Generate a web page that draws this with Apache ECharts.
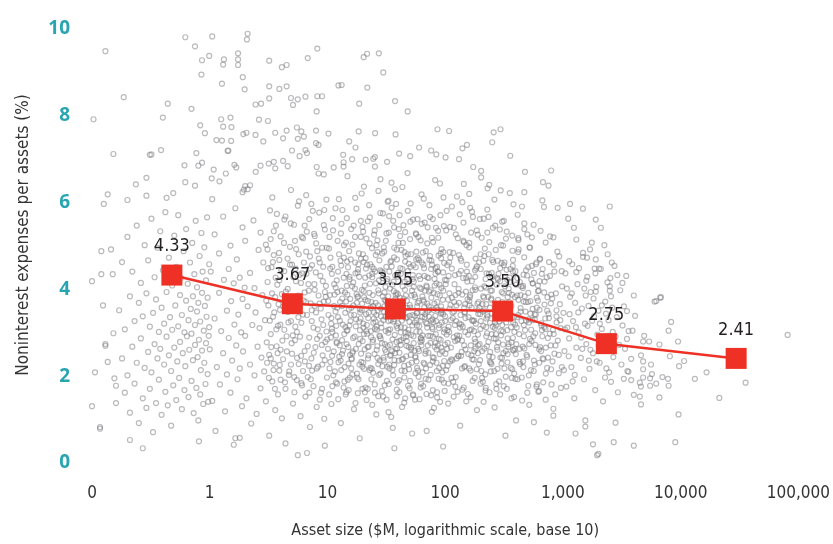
<!DOCTYPE html>
<html>
<head>
<meta charset="utf-8">
<script src="https://cdn.jsdelivr.net/npm/echarts/dist/echarts.min.js"></script>
<style>
  html, body { margin: 0; padding: 0; background: #fff; }
  #chart { width: 833px; height: 544px; }
</style>
</head>
<body>
<div id="chart"></div>
<script>
// asset size ($M) vs noninterest expenses per assets (%), one pair per bank
const banksUnder1 = [
  [0.136,6.19],[0.126,5.97],[0.12,4.88],[0.145,4.92],[0.1,4.19],[0.12,4.35],[0.15,4.35],[0.124,3.63],[0.152,2.99],[0.13,2.74],
  [0.13,2.7],[0.136,2.33],[0.106,2.09],[0.155,1.95],[0.16,1.78],[0.1,1.31],[0.16,1.38],[0.117,0.83],[0.117,0.79],[0.13,9.49],
  [0.186,8.43],[0.103,7.92],[0.152,7.12],[0.31,7.1],[0.386,7.21],[0.4,7.96],[0.44,8.28],[0.7,8.16],[0.62,9.81],[0.75,9.6],
  [0.99,9.38],[0.86,9.28],[0.85,8.95],[0.83,7.78],[0.91,7.6],[0.77,7.14],[0.61,6.86],[0.8,6.85],[0.86,6.92],[0.29,6.57],
  [0.236,6.42],[0.62,6.47],[0.75,6.39],[0.29,6.16],[0.43,6.11],[0.49,6.22],[0.2,6.06],[0.32,7.11],[0.21,0.53],[0.27,0.34],[0.81,0.5],
  [0.17,3.52],[0.18,2.41],[0.18,4.63],[0.19,1.62],[0.19,3.08],[0.2,5.21],[0.2,2.02],[0.21,3.84],[0.21,1.16],[0.22,2.68],
  [0.22,4.41],[0.23,3.27],[0.23,1.83],[0.24,5.47],[0.24,2.31],[0.25,3.69],[0.25,0.92],[0.26,2.87],[0.26,4.15],[0.27,1.49],
  [0.27,3.38],[0.28,2.19],[0.28,5.02],[0.29,3.91],[0.29,1.27],[0.3,2.56],[0.3,4.67],[0.31,3.14],[0.31,1.71],[0.32,2.09],
  [0.32,5.63],[0.33,3.46],[0.33,0.71],[0.34,2.74],[0.34,4.28],[0.35,1.38],[0.35,3.77],[0.36,2.41],[0.36,4.96],[0.37,3.02],
  [0.37,1.92],[0.38,5.34],[0.38,2.63],[0.39,3.58],[0.39,1.11],[0.4,4.44],[0.41,2.27],[0.41,3.21],[0.42,1.64],[0.42,5.78],
  [0.43,2.91],[0.43,3.94],[0.44,1.33],[0.45,4.73],[0.45,2.48],[0.46,3.36],[0.47,0.86],[0.47,2.12],[0.48,4.09],[0.48,3.07],
  [0.49,1.79],[0.5,5.24],[0.5,2.66],[0.51,3.63],[0.52,1.45],[0.52,4.52],[0.53,2.34],[0.54,3.15],[0.54,5.71],[0.55,1.96],
  [0.56,3.87],[0.56,2.79],[0.57,4.26],[0.58,1.24],[0.58,3.41],[0.59,2.53],[0.6,4.88],[0.61,3.01],[0.61,1.68],[0.62,2.23],
  [0.63,3.74],[0.63,5.39],[0.64,2.92],[0.65,4.13],[0.66,1.52],[0.66,3.29],[0.67,2.61],[0.68,4.62],[0.69,3.55],[0.7,1.89],
  [0.7,2.98],[0.71,5.07],[0.72,3.84],[0.72,2.37],[0.73,1.15],[0.74,4.35],[0.75,3.18],[0.75,2.72],[0.76,5.58],[0.77,1.73],
  [0.78,3.49],[0.78,4.05],[0.79,2.44],[0.8,0.98],[0.8,3.69],[0.81,2.84],[0.82,4.77],[0.83,1.58],[0.83,3.26],[0.84,2.14],
  [0.85,5.3],[0.86,3.92],[0.86,2.59],[0.87,4.41],[0.88,1.36],[0.89,3.05],[0.9,2.31],[0.9,4.97],[0.91,3.62],[0.92,1.82],
  [0.93,2.76],[0.93,4.21],[0.94,3.37],[0.95,5.66],[0.96,2.05],[0.96,3.81],[0.97,1.41],[0.98,2.93],[0.99,4.58],[0.99,3.13]
];

const banks1to10 = [
  [1.05,9.83],[2.1,9.89],[2.07,9.76],[1.3,9.18],[1.74,9.3],[1.74,9.17],[1.27,8.74],[1.98,8.61],[1.91,8.89],[3.2,9.27],
  [3.2,8.68],[3.2,8.4],[2.45,8.26],[2.73,8.28],[1.25,7.92],[1.5,7.96],[1.27,7.43],[1.52,7.42],[1.14,7.44],[1.93,7.58],
  [2.05,7.61],[2.62,7.91],[3.12,7.88],[2.45,7.56],[2.85,7.41],[1.42,7.19],[1.04,6.56],[1.21,6.49],[1.08,6.76],[1.37,6.67],
  [1.68,6.81],[1.62,6.87],[2.46,6.71],[2.7,6.85],[3.17,6.9],[3.5,6.94],[1.9,6.24],[2.0,6.38],[2.1,6.31],[2.2,6.4],
  [1.95,6.3],[1.65,0.57],[1.8,0.58],[4.4,0.45],[5.6,0.18],[6.7,0.23],[9.5,0.4],
  [1.32,9.3],[1.74,9.44],[4.1,9.12],[4.5,9.17],[6.8,9.33],[8.2,9.55],[3.9,8.62],[4.5,8.68],[4.9,8.41],[5.6,8.38],
  [6.5,8.44],[5.1,8.25],[8.2,8.45],[9.0,8.45],[8.1,8.1],[1.44,7.2],[1.3,7.75],[1.53,7.74],[3.6,7.61],[4.2,7.48],
  [4.5,7.66],[5.5,7.73],[6.0,7.64],[6.3,7.52],[5.6,7.47],[8.0,7.66],[8.0,7.37],[8.4,7.33],[3.6,6.79],[4.2,6.96],
  [4.6,6.84],[5.0,7.2],[5.8,7.07],[6.7,7.14],[6.5,7.21],[8.1,6.82],[9.3,6.65],[8.4,6.67],
  [1.0,2.62],[1.02,4.41],[1.05,1.43],[1.05,6.08],[1.1,3.33],[1.1,5.27],[1.12,0.74],[1.15,2.21],[1.2,3.92],[1.2,4.83],
  [1.22,1.81],[1.25,3.04],[1.3,5.68],[1.3,2.53],[1.32,4.22],[1.35,1.19],[1.4,3.51],[1.4,2.04],[1.45,4.47],[1.45,2.88],
  [1.5,5.01],[1.5,1.62],[1.52,3.73],[1.55,2.36],[1.6,4.14],[1.6,0.42],[1.62,3.19],[1.65,5.87],[1.68,2.71],[1.7,4.69],
  [1.72,1.93],[1.75,3.42],[1.8,2.18],[1.8,4.27],[1.85,3.01],[1.88,1.31],[1.9,5.43],[1.9,3.78],[1.92,2.57],[1.98,4.04],
  [2.0,2.93],[2.0,5.12],[2.05,1.49],[2.1,3.61],[2.2,2.27],[2.2,4.38],[2.25,0.91],[2.3,3.18],[2.35,5.59],[2.4,2.02],
  [2.4,4.03],[2.45,3.47],[2.5,1.13],[2.55,2.68],[2.6,4.91],[2.65,3.11],[2.7,1.72],[2.7,5.31],[2.75,2.43],[2.8,3.87],
  [2.85,4.62],[2.9,2.11],[2.95,3.29],[3.0,1.42],[3.0,5.03],[3.05,2.78],[3.1,4.17],[3.15,3.63],[3.2,0.63],[3.2,2.49],
  [3.25,5.82],[3.3,2.97],[3.35,4.51],[3.4,1.88],[3.4,6.12],[3.45,3.37],[3.5,2.29],[3.5,4.79],[3.6,1.22],[3.6,3.82],
  [3.65,5.47],[3.7,2.69],[3.75,4.11],[3.8,3.16],[3.8,1.58],[3.9,2.13],[3.9,4.68],[3.95,3.53],[4.0,2.61],[4.0,5.22],
  [4.1,1.03],[4.1,3.89],[4.2,2.39],[4.3,4.42],[4.3,3.07],[4.4,1.71],[4.4,5.68],[4.5,2.92],[4.6,4.01],[4.6,3.48],
  [4.7,2.03],[4.8,4.98],[4.9,3.27],[4.9,6.29],[5.0,2.52],[5.0,4.57],[5.1,1.37],[5.2,3.81],[5.2,5.49],[5.3,2.83],
  [5.4,4.19],[5.5,1.91],[5.5,3.02],[5.6,5.93],[5.7,2.28],[5.7,4.81],[5.8,3.58],[5.9,1.08],[6.0,3.23],[6.1,4.37],
  [6.2,2.12],[6.2,5.18],[6.4,3.93],[6.4,2.58],[6.5,1.53],[6.6,4.87],[6.6,6.17],[6.7,3.41],[6.8,1.98],[6.9,4.12],
  [7.0,5.62],[7.0,2.89],[7.1,0.83],[7.2,3.68],[7.3,5.97],[7.3,2.41],[7.4,4.56],[7.6,3.12],[7.6,1.77],[7.7,5.28],
  [7.8,3.99],[7.9,2.67],[8.0,3.47],[8.1,1.29],[8.2,4.88],[8.3,2.22],[8.4,3.86],[8.5,5.77],[8.6,2.93],[8.7,4.31],
  [8.8,1.62],[8.9,3.31],[9.0,4.96],[9.1,2.48],[9.2,4.52],[9.3,3.72],[9.4,1.02],[9.5,5.38],[9.6,2.79],[9.7,4.08],
  [9.8,6.07],[9.8,3.03],[9.9,1.97],
  [3.02,3.74],[3.07,2.31],[3.13,4.49],[3.18,1.96],[3.24,3.28],[3.29,5.16],[3.33,2.67],[3.38,3.91],[3.44,4.63],[3.48,2.14],
  [3.53,3.47],[3.58,1.71],[3.63,4.27],[3.68,3.08],[3.72,5.74],[3.77,2.53],[3.84,3.66],[3.88,4.84],[3.93,2.26],[3.98,3.19],
  [4.05,4.44],[4.14,2.82],[4.22,3.61],[4.27,5.07],[4.36,1.86],[4.43,3.95],[4.52,2.57],[4.58,4.71],[4.66,3.24],[4.74,2.11],
  [4.82,3.79],[4.88,5.52],[4.96,2.76],[5.05,3.53],[5.14,4.28],[5.24,1.63],[5.33,3.14],[5.42,4.93],[5.52,2.42],[5.63,3.86],
  [5.74,6.03],[5.85,2.91],[5.96,4.15],[6.08,1.79],[6.19,3.42],[6.31,4.62],[6.43,2.34],[6.56,3.71],[6.68,5.33],[6.81,2.69],
  [6.95,3.97],[7.08,4.48],[7.22,1.93],[7.36,3.27],[7.51,5.81],[7.65,2.54],[7.81,3.62],[7.96,4.39],[8.12,2.18],[8.28,3.08],
  [8.44,4.71],[8.61,1.46],[8.78,3.56],[8.95,2.72],[9.13,4.19],[9.31,5.48],[9.49,2.37],[9.68,3.83],[9.87,4.96],[9.95,2.85],
  [5.08,2.94],[5.36,4.48],[5.66,3.36],[5.97,2.47],[6.29,3.74],[6.63,4.36],[6.98,2.24],[7.35,3.52],[7.74,4.12],[8.15,2.86],
  [8.58,3.67],[9.03,2.27],[9.51,3.94],[5.22,1.98],[6.05,5.21],[7.02,1.62],[8.02,5.06],[9.21,3.18],
  [3.1,4.92],[3.5,5.34],[3.9,4.21],[4.3,5.61],[4.8,4.57],[5.3,5.12],[5.8,4.34],[6.4,5.47],[7.1,4.76],[7.8,5.23],
  [8.6,4.62],[9.4,5.83],[3.3,2.41],[4.0,1.92],[4.9,2.27],[6.0,1.84],[7.4,2.13],[9.0,1.71]
];

const banks10to100 = [
  [12.4,8.7],[13.2,8.71],[21.8,8.65],[20.3,9.35],[21.7,9.43],[27.3,9.44],[29.8,9.0],[18.6,8.28],[37.5,8.34],[48,8.1],
  [10.2,7.59],[11.3,6.81],[13.6,7.1],[13.7,6.93],[13.7,6.83],[16.2,7.0],[15.3,7.41],[17.3,7.27],[18.4,7.64],[25.4,7.6],
  [37.9,7.57],[21.1,6.99],[24.5,7.01],[25.3,7.05],[25.3,6.83],[32.1,6.94],[40.6,7.13],[50.4,7.07],[60,7.27],[76,7.2],
  [84,7.11],[86,7.69],[37,0.34],
  [10.2,3.41],[10.4,2.18],[10.6,4.73],[10.8,1.36],[11.0,3.02],[11.1,5.64],[11.3,2.57],[11.5,3.88],[11.8,2.94],[12.0,4.21],
  [12.1,1.83],[12.3,3.36],[12.5,6.08],[12.6,2.45],[12.8,3.71],[13.0,0.92],[13.1,4.55],[13.3,2.83],[13.5,3.19],[13.8,5.02],
  [14.0,2.21],[14.1,3.93],[14.3,1.58],[14.5,4.36],[14.6,3.05],[14.8,6.61],[15.0,2.67],[15.2,3.54],[15.3,4.88],[15.5,1.97],
  [15.7,3.27],[15.9,5.39],[16.0,2.39],[16.2,4.07],[16.6,3.63],[16.8,1.24],[17.0,2.91],[17.2,4.62],[17.4,3.15],[17.6,5.86],
  [17.8,2.06],[18.0,3.82],[18.4,2.74],[18.6,4.29],[18.8,0.57],[19.0,3.47],[19.2,5.21],[19.4,2.33],[19.6,3.99],[19.8,1.71],
  [20.0,4.81],[20.2,3.12],[20.4,6.37],[20.7,2.62],[21.0,3.76],[21.2,4.48],[21.5,1.45],[21.7,2.98],[22.0,5.57],[22.2,3.34],
  [22.8,2.14],[23.0,4.13],[23.3,3.58],[23.6,1.93],[23.9,4.95],[24.2,2.79],[24.5,3.23],[25.1,2.51],[25.4,4.41],[25.7,3.69],
  [26.0,1.12],[26.3,3.07],[26.6,5.13],[27.0,2.28],[27.3,3.91],[27.6,4.67],[28.3,2.87],[28.6,3.38],[29.0,1.66],[29.3,4.26],
  [29.6,5.75],[30.0,2.43],[30.4,3.61],[31.2,3.04],[31.6,4.52],[32.0,1.89],[32.4,2.69],[32.8,3.84],[33.2,5.31],[33.6,2.18],
  [34.0,4.02],[34.5,3.29],[35.0,6.46],[35.4,2.58],[35.9,0.81],[36.3,3.52],[36.8,4.74],[37.3,2.95],[37.8,3.78],[38.3,5.97],
  [38.8,1.54],[39.3,3.11],[39.8,4.38],[40.3,2.36],[41.3,3.44],[41.9,2.72],[42.5,4.91],[43.0,1.29],[43.6,3.65],[44.2,5.48],
  [44.8,2.24],[45.4,4.18],[46.0,3.01],[47.2,2.81],[47.8,3.57],[48.4,1.78],[49.0,4.59],[49.7,3.25],[50.3,5.16],[51.0,2.49],
  [51.7,3.86],[52.4,0.68],[53.1,4.33],[53.8,2.92],[55.2,3.39],[56.0,2.07],[56.7,4.69],[57.5,3.17],[58.2,5.62],[59.0,2.63],
  [59.8,3.73],[60.6,1.47],[61.4,4.24],[62.2,2.88],[63.0,6.19],[63.9,3.48],[64.7,4.85],[65.6,2.31],[66.5,3.59],[68.3,1.94],
  [69.2,4.09],[70.1,3.21],[71.0,5.43],[72.0,2.54],[73.0,3.95],[75.0,2.77],[76.0,4.47],[77.0,1.18],[78.0,3.31],[79.0,5.09],
  [80.0,2.42],[81.0,3.67],[82.1,6.52],[83.2,2.97],[84.3,4.14],[85.4,1.63],[86.5,3.53],[87.7,4.78],[88.9,2.19],[90.0,3.86],
  [91.2,5.71],[92.4,2.66],[93.6,3.24],[96.1,4.39],[97.4,1.85],[98.7,3.08],
  [10.1,2.63],[10.5,3.87],[10.9,4.36],[11.2,2.02],[11.7,3.49],[12.2,5.12],[12.7,2.71],[13.2,3.97],[13.7,1.74],[14.2,3.13],
  [14.7,4.64],[15.1,2.29],[15.6,3.78],[16.5,2.88],[17.1,4.02],[17.5,3.31],[18.1,1.61],[18.5,4.83],[18.9,3.06],[19.3,2.52],
  [19.7,3.67],[20.1,5.33],[20.5,2.17],[20.9,4.27],[21.3,3.43],[22.3,2.48],[22.7,3.92],[23.1,4.58],[23.5,2.9],[24.0,1.34],
  [24.4,3.62],[24.9,5.26],[25.3,3.09],[25.8,4.14],[26.2,2.61],[26.7,3.51],[27.1,6.27],[27.5,2.03],[28.1,4.44],[28.5,3.22],
  [29.1,2.76],[29.5,3.84],[30.1,4.97],[30.6,1.79],[31.0,3.37],[31.5,2.56],[31.9,4.19],[32.5,6.02],[32.9,3.0],[33.4,2.27],
  [33.9,3.71],[34.3,4.63],[34.8,1.06],[35.3,3.44],[35.7,2.85],[36.2,5.58],[36.6,3.96],[37.1,2.37],[37.6,4.32],[38.6,3.16],
  [39.1,2.64],[39.6,3.89],[40.1,5.07],[40.6,1.91],[41.1,3.55],[41.6,4.49],[42.2,2.83],[42.8,3.28],[43.3,6.36],[43.9,2.4],
  [44.5,3.79],[45.1,4.86],[45.7,1.49],[46.3,3.34],[46.9,2.7],[47.5,4.23],[48.1,5.81],[48.7,3.07],[49.4,2.16],[50.0,3.64],
  [50.7,4.52],[51.4,2.95],[52.8,3.41],[53.5,1.56],[54.2,4.06],[54.9,2.59],[55.6,3.82],[56.4,5.29],[57.1,2.34],[57.8,3.46],
  [58.6,4.72],[59.4,1.99],[60.2,3.15],[61.8,2.79],[62.6,4.01],[63.5,3.36],[64.3,2.09],[65.2,4.57],[66.0,3.72],[66.9,5.54],
  [67.8,2.52],[68.7,3.23],[69.6,0.74],[70.5,4.28],[71.5,2.93],[72.5,3.61],[73.5,5.94],[74.5,2.26],[75.5,3.98],[76.5,4.66],
  [77.5,3.13],[78.5,1.68],[79.5,3.53],[81.6,2.68],[82.7,4.36],[83.8,3.27],[84.9,2.12],[86.0,3.89],[87.1,5.35],[88.3,2.86],
  [89.5,4.11],[90.6,1.41],[91.8,3.44],[93.0,4.93],[94.2,2.57],[95.5,3.76],[96.8,6.12],[98.0,2.35],[99.3,4.22],
  [10.3,4.94],[10.7,2.89],[11.0,1.77],[11.4,4.12],[11.9,3.16],[12.4,2.32],[12.9,4.66],[13.4,5.83],[13.9,2.97],[14.4,3.72],
  [14.9,1.92],[15.4,4.23],[15.8,3.41],[16.3,2.53],[16.7,5.47],[17.3,1.38],[17.7,3.89],[18.3,4.58],[18.7,2.27],[19.1,3.33],
  [19.5,6.21],[19.9,2.81],[20.3,3.96],[20.8,1.63],[21.1,4.72],[21.6,3.18],[22.1,2.41],[22.6,4.32],[22.9,5.66],[23.4,3.04],
  [23.8,2.17],[24.3,3.87],[24.7,4.47],[25.2,1.81],[25.6,3.26],[26.1,5.02],[26.5,2.69],[26.9,3.63],[27.4,4.21],[27.8,2.36],
  [28.2,6.54],[28.7,3.12],[29.2,4.83],[29.7,1.53],[30.2,3.49],[30.7,2.74],[31.1,4.06],[31.7,5.29],[32.2,2.22],[32.7,3.67],
  [33.0,1.17],[33.5,4.41],[34.1,3.08],[34.6,2.49],[35.1,5.88],[35.6,3.58],[36.1,2.02],[36.5,4.18],[37.0,3.31],[37.4,6.31],
  [37.9,2.63],[38.4,3.92],[38.9,4.69],[39.4,1.86],[39.9,3.22],[40.4,5.39],[40.9,2.54],[41.4,3.81],[42.0,4.36],[42.6,2.13],
  [43.1,3.47],[43.7,5.07],[44.3,2.88],[44.9,1.39],[45.5,3.99],[46.1,4.77],[46.7,2.46],[47.3,3.36],[47.9,6.68],[48.5,2.99],
  [49.2,4.13],[49.9,1.72],[50.5,3.58],[51.2,4.81],[51.9,2.31],[52.6,3.17],[53.3,5.61],[54.0,2.76],[54.7,3.88],[55.4,1.46],
  [56.2,4.51],[56.9,3.03],[57.7,2.19],[58.4,3.69],[59.2,5.21],[60.0,2.58],[60.8,4.04],[61.6,3.28],[62.4,1.83],[63.2,4.62],
  [64.0,2.94],[64.9,3.76],[65.8,6.09],[66.7,2.28],[67.6,3.43],[68.5,4.88],[69.4,1.59],[70.3,3.12],[71.3,2.71],[72.3,4.26],
  [73.3,3.53],[74.3,5.67],[75.3,2.03],[76.3,3.81],[77.3,4.57],[78.3,2.44],[79.3,3.24],[80.3,1.27],[81.3,4.09],[82.4,3.39],
  [83.5,5.42],[84.6,2.62],[85.7,3.71],[86.8,4.41],[88.0,1.94],[89.2,3.18],[90.3,6.44],[91.5,2.84],[92.7,4.03],[93.9,3.52],
  [95.1,2.24],[96.4,4.86],[97.7,3.01],[99.0,1.66],
  [10.9,3.09],[12.1,3.58],[13.3,2.51],[14.6,4.08],[15.9,2.18],[17.3,4.37],[18.8,3.55],[20.4,2.97],[22.1,3.73],[24.0,4.28],
  [26.0,3.41],[28.2,2.06],[30.5,3.93],[33.0,3.27],[35.7,4.11],[38.6,2.79],[41.8,3.63],[45.3,3.12],[49.0,2.67],[53.0,4.24],
  [57.4,3.45],[62.1,2.87],[67.2,3.97],[72.8,3.37],[78.8,2.91],[85.3,4.52],[92.3,3.61],[99.8,3.27],
  [10.15,3.73],[10.35,1.58],[10.55,4.48],[10.75,3.21],[10.95,2.47],[11.15,5.36],[11.35,3.62],[11.55,2.11],[11.75,4.04],[11.95,2.79],
  [12.15,3.94],[12.35,1.47],[12.55,4.81],[12.75,3.28],[12.95,2.36],[13.15,5.51],[13.35,3.79],[13.55,2.59],[13.75,4.27],[13.95,1.88],
  [14.15,3.46],[14.35,5.08],[14.55,2.74],[14.75,3.88],[14.95,4.51],[15.15,1.68],[15.35,3.17],[15.55,2.49],[15.75,4.69],[15.95,3.58],
  [16.25,2.04],[16.55,4.16],[16.85,3.41],[17.15,5.21],[17.45,2.63],[17.75,3.69],[18.05,4.39],[18.35,1.93],[18.65,3.26],[18.95,2.86],
  [19.25,4.71],[19.55,3.52],[19.85,5.44],[20.15,2.31],[20.45,3.82],[20.75,4.09],[21.05,1.74],[21.35,3.04],[21.65,4.57],[21.95,2.67],
  [22.4,3.47],[22.8,5.06],[23.2,2.19],[23.6,3.71],[24.0,4.36],[24.4,2.84],[24.8,3.33],[25.3,1.62],[25.7,4.79],[26.1,3.14],
  [26.6,2.42],[27.0,3.98],[27.5,5.48],[27.9,2.92],[28.4,3.56],[28.9,4.41],[29.3,2.23],[29.8,3.29],[30.3,4.87],[30.8,2.61],
  [31.3,3.73],[31.8,1.46],[32.3,4.24],[32.9,3.07],[33.4,5.69],[34.0,2.72],[34.5,3.62],[35.1,4.53],[35.7,2.14],[36.3,3.26],
  [36.9,4.96],[37.5,2.53],[38.1,3.87],[38.8,1.69],[39.4,4.29],[40.1,3.42],[40.7,2.81],[41.4,5.23],[42.1,3.13],[42.8,2.38],
  [43.5,4.07],[44.2,3.51],[45.0,1.97],[45.7,4.64],[46.5,2.91],[47.3,3.74],[48.1,4.42],[48.9,2.27],[49.7,3.39],[50.6,5.56],
  [51.4,2.66],[52.3,3.97],[53.2,1.58],[54.1,4.18],[55.0,3.24],[55.9,2.46],[56.9,4.87],[57.8,3.61],[58.8,2.13],[59.8,4.31],
  [60.8,3.02],[61.9,5.13],[62.9,2.71],[64.0,3.84],[65.1,1.77],[66.2,4.49],[67.3,3.36],[68.5,2.58],[69.7,4.06],[70.9,3.49],
  [72.1,1.92],[73.3,4.68],[74.6,2.93],[75.8,3.28],[77.1,5.19],[78.5,2.34],[79.8,3.92],[81.2,4.24],[82.6,2.77],[84.0,3.58],
  [85.4,1.51],[86.9,4.41],[88.4,3.11],[89.9,2.51],[91.5,4.83],[93.0,3.47],[94.6,2.09],[96.3,3.97],[97.9,4.61],[99.6,2.73],
  [10.4,5.21],[11.0,4.52],[11.7,5.87],[12.3,4.41],[13.0,5.29],[13.8,4.73],[14.6,5.64],[15.4,4.29],[16.3,5.03],[17.2,6.11],
  [18.2,4.46],[19.2,5.58],[20.3,4.63],[21.4,5.17],[22.6,5.94],[23.9,4.52],[25.2,5.36],[26.6,4.86],[28.1,5.76],[29.6,4.38],
  [31.3,5.12],[33.0,6.04],[34.8,4.66],[36.8,5.43],[38.8,4.92],[41.0,5.71],[43.3,4.47],[45.7,5.32],[48.2,4.81],[50.9,5.98],
  [53.7,4.56],[56.7,5.27],[59.9,4.68],[63.2,5.51],[66.7,4.31],[70.4,5.06],[74.3,4.77],[78.5,5.62],[82.8,4.49],[87.4,5.19],
  [92.3,4.72],[97.4,5.46],
  [10.6,2.33],[11.8,1.86],[13.1,2.14],[14.5,1.63],[16.1,2.41],[17.9,1.97],[19.8,2.22],[22.0,1.71],[24.4,2.08],[27.0,1.54],
  [30.0,2.37],[33.2,1.82],[36.9,2.26],[40.9,1.63],[45.3,2.12],[50.3,1.89],[55.8,2.43],[61.9,1.74],[68.6,2.18],[76.1,1.56],
  [84.4,2.31],[93.6,1.92],
  [10.8,3.34],[12.0,2.76],[13.3,3.62],[14.8,3.06],[16.4,2.57],[18.2,3.84],[20.2,3.21],[22.4,2.68],[24.9,3.47],[27.6,2.93],
  [30.6,3.76],[34.0,2.47],[37.7,3.58],[41.8,3.01],[46.4,3.86],[51.5,2.62],[57.2,3.29],[63.4,2.83],[70.4,3.67],[78.1,3.09],
  [86.6,2.71],[96.1,3.43]
];

const banks100to1k = [
  [100.7,7.04],[131,7.0],[140,7.25],[108,7.65],[153,7.33],[258,7.62],[96,0.38],
  [202,6.73],[229,6.33],[160,6.2],[140,6.01],[228,5.84],[470,6.24],[677,6.47],[794,6.74],[380,5.96],
  [690,5.9],[295,7.69],[251,7.39],[315,5.58],[470,5.52],[470,5.39],[545,5.2],[830,5.2],[730,0.7],[830,1.25],
  [100,3.38],[102,2.14],[104,4.56],[106,1.37],[108,3.02],[110,5.44],[112,2.66],[114,3.81],[118,2.9],[120,4.12],
  [122,1.76],[124,3.27],[126,6.14],[129,2.47],[131,3.69],[134,0.86],[136,4.43],[139,2.82],[141,3.14],[144,5.09],
  [147,2.23],[150,3.95],[156,1.59],[159,4.31],[162,3.06],[165,2.71],[168,3.58],[172,5.67],[175,2.38],[179,4.05],
  [182,3.21],[186,1.22],[190,2.96],[194,4.62],[198,3.43],[202,6.58],[206,2.58],[210,3.84],[215,4.77],[219,2.04],
  [224,3.33],[228,5.31],[233,2.79],[238,1.63],[243,3.97],[248,4.38],[253,2.44],[264,3.11],[269,4.91],[275,2.67],
  [281,3.76],[287,1.88],[293,4.19],[299,3.05],[305,5.56],[312,2.53],[318,3.61],[325,0.63],[332,4.45],[339,2.87],
  [346,3.36],[354,6.22],[361,2.19],[369,3.88],[377,4.68],[385,1.52],[393,3.19],[402,2.74],[410,4.26],[419,5.14],
  [428,2.33],[437,3.57],[447,1.97],[456,4.03],[466,2.92],[476,6.71],[486,3.28],[497,2.45],[507,4.51],[518,1.34],
  [529,3.73],[541,2.81],[552,4.14],[564,5.49],[576,2.27],[589,3.42],[601,1.81],[614,3.96],[628,2.62],[641,4.71],
  [655,3.17],[669,6.05],[684,2.39],[698,3.65],[714,1.46],[729,4.28],[745,2.88],[761,3.34],[777,5.22],[794,2.16],
  [811,3.79],[829,1.09],[846,4.41],[865,2.71],[883,3.24],[902,5.88],[922,2.49],[942,3.66],[962,1.73],[983,4.07],
  [101,4.12],[105,2.77],[109,3.56],[113,1.96],[117,4.84],[121,3.18],[125,2.41],[130,3.92],[133,5.73],[138,2.56],
  [142,4.26],[146,3.47],[151,1.42],[155,3.77],[160,4.97],[164,2.13],[169,3.29],[173,6.82],[178,2.86],[183,4.48],
  [188,3.67],[193,2.28],[199,3.09],[204,5.19],[209,1.87],[214,3.52],[220,4.24],[226,2.69],[232,3.83],[237,6.41],
  [244,2.31],[250,3.44],[256,4.63],[263,1.28],[270,3.17],[277,2.61],[284,4.36],[291,5.38],[298,2.94],[306,3.71],
  [314,1.77],[322,4.07],[330,3.24],[339,2.51],[348,3.92],[357,7.08],[366,2.78],[375,4.54],[385,3.37],[395,1.94],
  [405,3.12],[416,4.86],[427,2.63],[438,3.49],[449,5.91],[461,2.21],[473,3.84],[486,4.44],[498,1.62],[511,3.31],
  [525,2.86],[539,4.23],[553,3.55],[567,0.94],[582,2.99],[597,4.62],[613,3.74],[629,2.31],[646,5.35],[663,3.06],
  [680,1.86],[698,4.18],[716,2.66],[735,3.51],[754,6.39],[774,2.98],[795,3.88],[816,2.34],[837,4.57],[859,1.58],
  [882,3.38],[905,2.82],[929,4.76],[954,3.11],[979,2.21],
  [103,2.96],[107,4.31],[111,3.64],[115,2.37],[119,3.49],[123,5.27],[127,2.83],[132,3.21],[137,4.66],[140,1.69],
  [145,3.58],[149,2.62],[154,4.18],[158,3.36],[163,5.88],[167,2.48],[171,3.98],[176,3.04],[181,4.71],[185,2.16],
  [191,3.44],[196,2.74],[201,4.02],[207,3.66],[212,1.41],[217,4.94],[223,2.92],[229,3.37],[235,4.36],[241,2.56],
  [247,3.79],[254,5.42],[261,2.12],[267,3.59],[274,4.11],[282,2.78],[289,3.26],[296,6.28],[304,2.42],[311,3.91],
  [319,4.62],[327,1.99],[336,3.46],[344,2.68],[353,4.27],[362,3.13],[371,5.24],[381,2.59],[391,3.82],[400,0.98],
  [103,5.81],[106,3.77],[110,2.34],[114,4.48],[118,1.53],[122,3.87],[126,2.94],[131,4.79],[135,3.41],[139,2.18],
  [144,6.43],[148,3.02],[153,4.41],[157,2.51],[162,3.82],[166,5.31],[171,1.89],[176,3.28],[181,2.64],[186,4.53],
  [192,3.71],[197,5.62],[203,2.12],[209,3.49],[215,4.07],[221,1.73],[227,2.99],[234,4.81],[240,3.58],[247,2.28],
  [254,3.14],[262,6.07],[269,2.86],[277,4.26],[285,3.39],[293,1.58],[301,4.61],[310,2.73],[319,3.47],[328,5.17],
  [338,2.32],[348,3.71],[358,4.47],[368,1.96],[379,3.24],[390,2.63],[401,4.11],[413,5.72],[425,2.97],[437,3.87],
  [450,1.44],[463,4.34],[477,3.06],[491,2.49],[505,3.71],[520,4.97],[535,2.14],[551,3.29],[567,4.38],[583,2.72],
  [600,3.58],[618,1.64],[636,4.69],[654,3.22],[673,2.41],[693,3.93],[713,5.08],[734,2.19],[755,3.44],[777,4.31],
  [800,1.81],[823,3.07],[847,2.52],[872,3.91],[897,4.87],[923,2.07],[950,3.29],[977,4.42],
  [104,2.63],[109,4.86],[116,3.34],[123,1.98],[130,4.01],[137,3.19],[145,2.71],[152,5.02],[161,3.63],[170,2.39],
  [180,4.29],[190,3.52],[200,1.83],[211,4.66],[223,3.13],[236,2.46],[249,3.97],[263,3.38],[278,2.17],[293,4.49],
  [310,3.03],[327,2.58],[346,4.02],[365,3.62],[386,2.06],[408,3.36],[431,4.17],[455,2.68],[481,3.49],[508,3.92],
  [537,3.07],[567,2.36],[599,3.81],[633,4.19],[669,2.92],[707,3.33],[747,2.43],[790,3.68],[835,2.97],[882,3.52],
  [100.5,2.52],[102.5,4.21],[104.5,3.06],[106.5,1.83],[108.5,3.91],[110.5,4.73],[112.5,2.39],[115.5,3.47],[118.5,5.42],[121.5,2.81],
  [124.5,3.63],[127.5,1.64],[130.5,4.36],[133.5,3.12],[136.5,2.47],[139.5,3.88],[142.5,5.12],[145.5,2.21],[148.5,3.34],[152.5,4.57],
  [156.5,2.96],[160.5,3.73],[164.5,1.52],[168.5,4.19],[172.5,3.27],[176.5,2.58],[180.5,3.99],[185.5,5.36],[190.5,2.71],[195.5,3.58],
  [200.5,4.47],[205.5,1.96],[210.5,3.16],[215.5,2.64],[221.5,4.04],[227.5,3.41],[233.5,5.67],[239.5,2.33],[245.5,3.76],[251.5,4.29],
  [258.5,2.87],[265.5,3.24],[272.5,1.71],[279.5,4.66],[286.5,3.57],[294.5,2.43],[302.5,3.94],[310.5,5.01],[318.5,2.18],[327.5,3.38],
  [336.5,4.22],[345.5,2.74],[355.5,3.64],[365.5,1.49],[375.5,4.41],[386.5,3.02],[397.5,2.51],[408.5,3.86],[420.5,4.92],[432.5,2.28],
  [444.5,3.27],[457.5,4.08],[470.5,2.64],[484.5,3.71],[498.5,5.27],[513.5,2.02],[528.5,3.44],[544.5,4.54],[560.5,2.92],[577.5,3.31],
  [595.5,1.76],[613.5,4.09],[632.5,3.53],[652.5,2.58],[672.5,4.47],[693.5,3.13],[715.5,2.06],[738.5,3.82],[762.5,4.63],[787.5,2.71],
  [111.5,3.29],[128.5,2.86],[147.5,3.66],[167.5,3.08],[189.5,2.53],[213.5,3.81],[240.5,3.23],[269.5,2.97],[301.5,3.49],[336.5,3.06],
  [375.5,2.61],[418.5,3.76],[465.5,3.18],[517.5,2.74],[575.5,3.43],[639.5,2.67],[711.5,3.09],
  [102,5.36],[108,4.62],[114,5.91],[121,4.33],[128,5.18],[135,4.71],[143,5.54],[151,4.26],[160,5.07],[169,5.79],
  [179,4.44],[189,5.26],[200,4.81],[212,5.63],[224,4.37],[237,5.09],[251,4.68],[266,5.47],[281,4.23],[298,5.02],
  [315,4.56],[333,5.33],[353,4.17],[373,4.89],[395,4.42],[418,5.18],[443,4.07],[469,4.74],[496,4.32],[525,4.96],
  [556,4.14],[589,4.58],[624,3.97],[661,4.36],
  [105,2.24],[117,1.87],[130,2.46],[144,1.74],[160,2.18],[178,1.96],[198,2.37],[220,1.67],[244,2.11],[271,1.82],
  [301,2.29],[334,1.71],[371,2.16],[412,1.93],[458,2.34],[508,1.78],[565,2.12],[627,1.66],
  [107,3.14],[119,3.71],[132,2.93],[147,3.48],[163,3.87],[181,2.79],[201,3.27],[223,3.66],[248,2.97],[275,3.53],
  [305,3.18],[339,3.82],[376,2.88],[418,3.41],[464,3.72],[515,3.24]
];

const banksOver1k = [
  [1300,5.15],[2100,5.42],[2400,4.81],[2900,4.33],[3200,4.15],[2500,5.91],
  [1130,4.65],[1300,4.4],[1480,4.75],[1600,4.73],[1900,4.69],[1580,4.2],[1860,4.48],[2030,4.48],[1900,3.95],[2530,4.26],
  [2500,4.07],[2500,3.97],[2560,3.84],
  [2800,0.93],[2700,0.48],[1950,0.18],[1800,0.43],[1280,0.68],[1550,0.84],[1550,0.98],[2000,0.21],
  [1010,3.46],[1030,2.58],[1050,4.37],[1070,1.76],[1090,3.12],[1110,5.63],[1130,2.87],[1150,3.83],[1180,2.21],[1200,4.58],
  [1220,3.27],[1250,1.49],[1270,3.69],[1300,2.66],[1330,4.12],[1360,3.01],[1420,2.42],[1450,3.56],[1480,4.84],[1510,1.93],
  [1540,3.21],[1580,2.74],[1610,4.29],[1650,3.62],[1680,2.17],[1720,3.94],[1760,5.08],[1800,2.53],[1840,3.38],[1880,1.68],
  [1920,4.06],[1960,2.96],[2000,3.51],[2050,2.31],[2100,4.47],[2140,3.09],[2190,1.42],[2240,2.78],[2290,3.72],[2340,2.18],
  [2390,4.16],[2440,3.29],[2500,2.61],[2560,1.87],[2620,3.58],[2680,2.44],[2740,4.54],[2800,2.91],[2870,3.36],[2930,1.63],
  [3000,2.72],[3070,3.98],[3140,2.27],[3210,3.17],[3290,1.94],[3370,2.63],[3450,4.31],[3530,2.12],[3610,3.04],
  [1150,5.97],[1240,5.42],[1480,5.86],[1700,4.92],[1900,5.61],[2250,5.02],[2600,4.62],[3300,3.61],
  [1040,3.08],[1120,2.46],[1190,3.91],[1260,2.03],[1350,3.47],[1430,2.89],[1520,4.02],[1620,3.16],[1710,2.61],[1820,3.79],
  [1940,2.34],[2060,3.21],[2180,2.86],[2320,3.44],[2470,2.09],[2650,3.02],
  [1020,2.14],[1080,4.02],[1140,3.43],[1210,1.88],[1290,3.13],[1370,4.49],[1460,2.63],[1560,3.86],[1660,2.36],[1770,3.28],
  [1890,4.37],[2010,2.71],[2140,3.63],[2280,1.97],[2430,2.93],
  [4000,3.86],[6200,3.73],[6800,3.82],[3500,3.5],[4100,3.39],[8300,3.25],[7900,3.05],[3900,3.05],[4900,2.93],[4800,2.8],
  [5400,2.8],[9500,2.8],[6600,2.73],[3500,2.86],[4600,2.48],[3800,2.4],[4800,2.34],[8100,2.46],[10700,2.35],[9700,2.23],
  [4800,2.16],[16600,2.09],[3600,2.1],[5700,2.05],[7000,1.98],[7800,1.94],[13200,1.94],[5500,1.95],[4800,1.97],[3800,1.91],
  [4500,1.85],[4600,1.76],[5500,1.78],[6200,1.83],[7900,1.78],[35600,1.85],[4000,1.57],[4500,1.53],[6600,1.51],[21300,1.5],
  [4600,1.35],[9600,1.12],[9000,0.48],[4000,0.4],[81000,2.95],[6000,3.72],[6700,3.81],[5600,2.27]
];

// group averages (red line)
const meanAssets = [0.477, 5.03, 37.7, 308, 2340, 29600];
const meanExpenses = [4.33, 3.67, 3.55, 3.50, 2.75, 2.41];

const xTickValues = [0.1, 1, 10, 100, 1000, 10000, 100000];
const xTickLabels = ['0', '1', '10', '100', '1,000', '10,000', '100,000'];

const banks = banksUnder1.concat(banks1to10, banks10to100, banks100to1k, banksOver1k);
const meanPoints = meanAssets.map((a, i) => [a, meanExpenses[i]]);

const narrow = "'Liberation Sans Narrow', 'DejaVu Sans Condensed', 'Roboto', sans-serif";

var chart = echarts.init(document.getElementById('chart'));

var option = {
  animation: false,
  grid: { left: 92, right: 30, top: 29, bottom: 75 },
  xAxis: {
    type: 'log',
    logBase: 10,
    min: 0.1,
    max: 100000,
    name: 'Asset size ($M, logarithmic scale, base 10)',
    nameLocation: 'middle',
    nameGap: 60,
    nameTextStyle: { fontFamily: narrow, fontSize: 16, color: '#333' },
    axisLine: { show: false },
    axisTick: { show: false },
    splitLine: { show: false },
    axisLabel: {
      margin: 22,
      fontFamily: narrow,
      fontSize: 17,
      color: '#333',
      formatter: function (v) {
        // ticks sit on whole powers of ten
        var k = xTickValues.indexOf(Number(v.toPrecision(3)));
        return k >= 0 ? xTickLabels[k] : '';
      }
    }
  },
  yAxis: {
    type: 'value',
    min: 0,
    max: 10,
    interval: 2,
    name: 'Noninterest expenses per assets (%)',
    nameLocation: 'middle',
    nameGap: 60,
    nameTextStyle: { fontFamily: narrow, fontSize: 17, color: '#333', padding: [0, 0, 0, 22] },
    axisLine: { show: false },
    axisTick: { show: false },
    splitLine: { show: false },
    axisLabel: {
      margin: 22,
      fontFamily: "'Open Sans', Lato, sans-serif",
      fontWeight: 'bold',
      fontSize: 19,
      color: '#29a5b1'
    }
  },
  series: [
    {
      type: 'scatter',
      data: banks,
      symbol: 'circle',
      symbolSize: 5,
      silent: true,
      itemStyle: {
        color: 'rgba(255,255,255,0)',
        borderColor: 'rgba(122,122,128,0.65)',
        borderWidth: 1.2
      },
      z: 1
    },
    {
      type: 'line',
      data: meanPoints,
      symbol: 'rect',
      symbolSize: 21,
      lineStyle: { color: '#ee3124', width: 2.5 },
      itemStyle: { color: '#ee3124' },
      label: {
        show: true,
        position: 'top',
        distance: 9,
        fontFamily: narrow,
        fontSize: 18,
        color: '#231f20',
        formatter: function (p) { return p.value[1].toFixed(2); }
      },
      z: 5
    }
  ]
};

chart.setOption(option);
</script>
</body>
</html>
